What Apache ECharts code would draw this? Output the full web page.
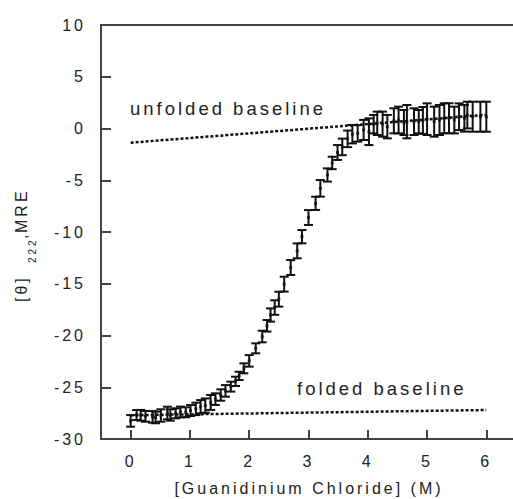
<!DOCTYPE html>
<html><head><meta charset="utf-8">
<script src="https://cdn.jsdelivr.net/npm/echarts@6/dist/echarts.min.js"></script>
<style>
html,body{margin:0;padding:0;background:#fff;}
#chart{width:513px;height:499px;}
#chart text{letter-spacing:3px;}
</style></head><body><div id="chart"></div>
<script>
// Guanidinium chloride concentration (M)
const gdmX = [0.00,0.10,0.17,0.25,0.37,0.42,0.51,0.62,0.67,0.76,0.84,0.93,1.01,1.10,1.18,1.26,1.35,1.43,1.52,1.60,1.69,1.77,1.83,1.91,2.00,2.11,2.22,2.30,2.36,2.43,2.50,2.59,2.70,2.81,2.89,3.00,3.12,3.20,3.32,3.40,3.49,3.57,3.66,3.74,3.83,3.93,4.02,4.10,4.16,4.25,4.33,4.44,4.52,4.61,4.66,4.78,4.86,4.93,5.00,5.12,5.21,5.29,5.37,5.46,5.54,5.63,5.68,5.77,5.90,6.00];
// [theta]222 MRE mean values
const mreY = [-28.25,-27.68,-27.71,-27.81,-27.86,-27.92,-27.73,-27.49,-27.68,-27.52,-27.39,-27.42,-27.25,-27.09,-26.88,-26.77,-26.47,-26.15,-25.75,-25.35,-24.94,-24.43,-23.90,-23.17,-22.45,-21.24,-20.10,-19.06,-18.02,-17.30,-16.49,-15.04,-13.43,-11.82,-10.45,-8.60,-7.23,-5.78,-4.49,-3.33,-2.32,-1.78,-1.00,-0.55,-0.47,-0.14,-0.31,0.42,0.50,0.42,0.18,0.74,0.82,0.58,0.66,0.66,0.66,0.78,0.90,0.66,0.82,0.99,0.99,0.82,1.14,0.99,1.30,1.14,1.14,1.14];
// error bar half-heights
const mreErr = [0.56,0.48,0.52,0.52,0.56,0.56,0.60,0.61,0.55,0.48,0.52,0.48,0.53,0.60,0.64,0.69,0.72,0.56,0.55,0.56,0.48,0.45,0.40,0.48,0.56,0.48,0.56,0.56,0.64,0.70,0.72,0.72,0.72,0.72,0.64,0.72,0.64,0.80,0.64,0.60,0.72,0.80,0.80,0.89,0.80,0.97,1.29,0.89,1.13,1.21,1.13,1.21,1.29,1.21,1.61,1.29,1.13,1.30,1.53,1.45,1.45,1.45,1.45,1.29,1.29,1.29,1.29,1.45,1.45,1.45];
// baselines
const unfoldedX = [0, 6];
const unfoldedY = [-1.37, 1.33];
const foldedX = [0, 6];
const foldedY = [-27.7, -27.2];
// axis ticks
const xTicks = [0, 1, 2, 3, 4, 5, 6];
const xMin = -0.5, xMax = 6.45;
const yMin = -30, yMax = 10, yStep = 5;

const chart = echarts.init(document.getElementById('chart'), null, {renderer: 'svg', width: 513, height: 499});
const font = '"Liberation Sans", Arial, sans-serif';
const ink = '#222';
const axisColor = '#444';

const errData = gdmX.map((x, i) => [x, mreY[i] - mreErr[i], mreY[i] + mreErr[i]]);

function renderErr(params, api) {
  const x = api.value(0);
  const lo = api.coord([x, api.value(1)]);
  const hi = api.coord([x, api.value(2)]);
  const hw = 4.5;
  const st = {stroke: '#111', lineWidth: 2};
  return {type: 'group', children: [
    {type: 'line', shape: {x1: hi[0], y1: hi[1], x2: lo[0], y2: lo[1]}, style: st},
    {type: 'line', shape: {x1: hi[0] - hw, y1: hi[1], x2: hi[0] + hw, y2: hi[1]}, style: st},
    {type: 'line', shape: {x1: lo[0] - hw, y1: lo[1], x2: lo[0] + hw, y2: lo[1]}, style: st}
  ]};
}

const dotted = {color: '#111', width: 2.5, type: [3, 2]};
const txt = (t, size, extra) => Object.assign({text: t, font: size + 'px ' + font, fill: ink, textAlign: 'left', verticalAlign: 'middle', textVerticalAlign: 'middle'}, extra || {});

const option = {
  animation: false,
  backgroundColor: '#fff',
  grid: {left: 101, top: 25, width: 412, height: 414, show: false, borderWidth: 0, borderColor: 'transparent', outerBoundsMode: 'none'},
  xAxis: {
    type: 'value', min: xMin, max: xMax,
    axisLine: {show: true, onZero: false, lineStyle: {color: axisColor, width: 2}},
    axisTick: {show: true, inside: true, length: 9, customValues: xTicks, lineStyle: {color: axisColor, width: 2}},
    axisLabel: {customValues: xTicks, margin: 14, fontSize: 16, color: ink, fontFamily: font},
    splitLine: {show: false},
    name: '[Guanidinium Chloride] (M)', nameLocation: 'middle', nameGap: 41,
    nameTextStyle: {fontSize: 16, color: ink, fontFamily: font, padding: [0, 0, 0, 4]}
  },
  yAxis: {
    type: 'value', min: yMin, max: yMax, interval: yStep,
    axisLine: {show: true, onZero: false, lineStyle: {color: axisColor, width: 2}},
    axisTick: {show: true, inside: true, length: 10, lineStyle: {color: axisColor, width: 2}},
    axisLabel: {margin: 15, fontSize: 16, color: ink, fontFamily: font},
    splitLine: {show: false}
  },
  series: [
    {type: 'line', data: unfoldedX.map((x, i) => [x, unfoldedY[i]]), symbol: 'none', lineStyle: dotted, silent: true},
    {type: 'line', data: foldedX.map((x, i) => [x, foldedY[i]]), symbol: 'none', lineStyle: dotted, silent: true},
    {type: 'custom', renderItem: renderErr, data: errData, encode: {x: 0, y: [1, 2]}, silent: true},
    {type: 'scatter', data: gdmX.map((x, i) => [x, mreY[i]]), symbol: 'rect', symbolSize: 3, itemStyle: {color: '#111'}, silent: true}
  ],
  graphic: [
    {id: 'lblU', type: 'text', x: 130, y: 108, style: txt('unfolded baseline', 18.5)},
    {id: 'lblF', type: 'text', x: 297, y: 388, style: txt('folded baseline', 18.5)},
    {id: 'ytitle', type: 'group', x: 21, y: 302, rotation: Math.PI / 2, children: [
      {type: 'text', x: 0, y: 0, style: txt('[θ]', 16)},
      {type: 'text', x: 39, y: 11, style: txt('222', 10)},
      {type: 'text', x: 63, y: 0, style: txt(',', 16)},
      {type: 'text', x: 69, y: 0, style: txt('MRE', 16)}
    ]}
  ]
};
chart.setOption(option);
// top frame line of the plot area, positioned through the grid's own scale
const tl = chart.convertToPixel({gridIndex: 0}, [xMin, yMax]);
const tr = chart.convertToPixel({gridIndex: 0}, [xMax, yMax]);
chart.setOption({graphic: [{id: 'topFrame', type: 'line', z: 10, shape: {x1: tl[0] - 1, y1: tl[1], x2: tr[0] + 2, y2: tr[1]}, style: {stroke: axisColor, lineWidth: 2}}]});
</script></body></html>
